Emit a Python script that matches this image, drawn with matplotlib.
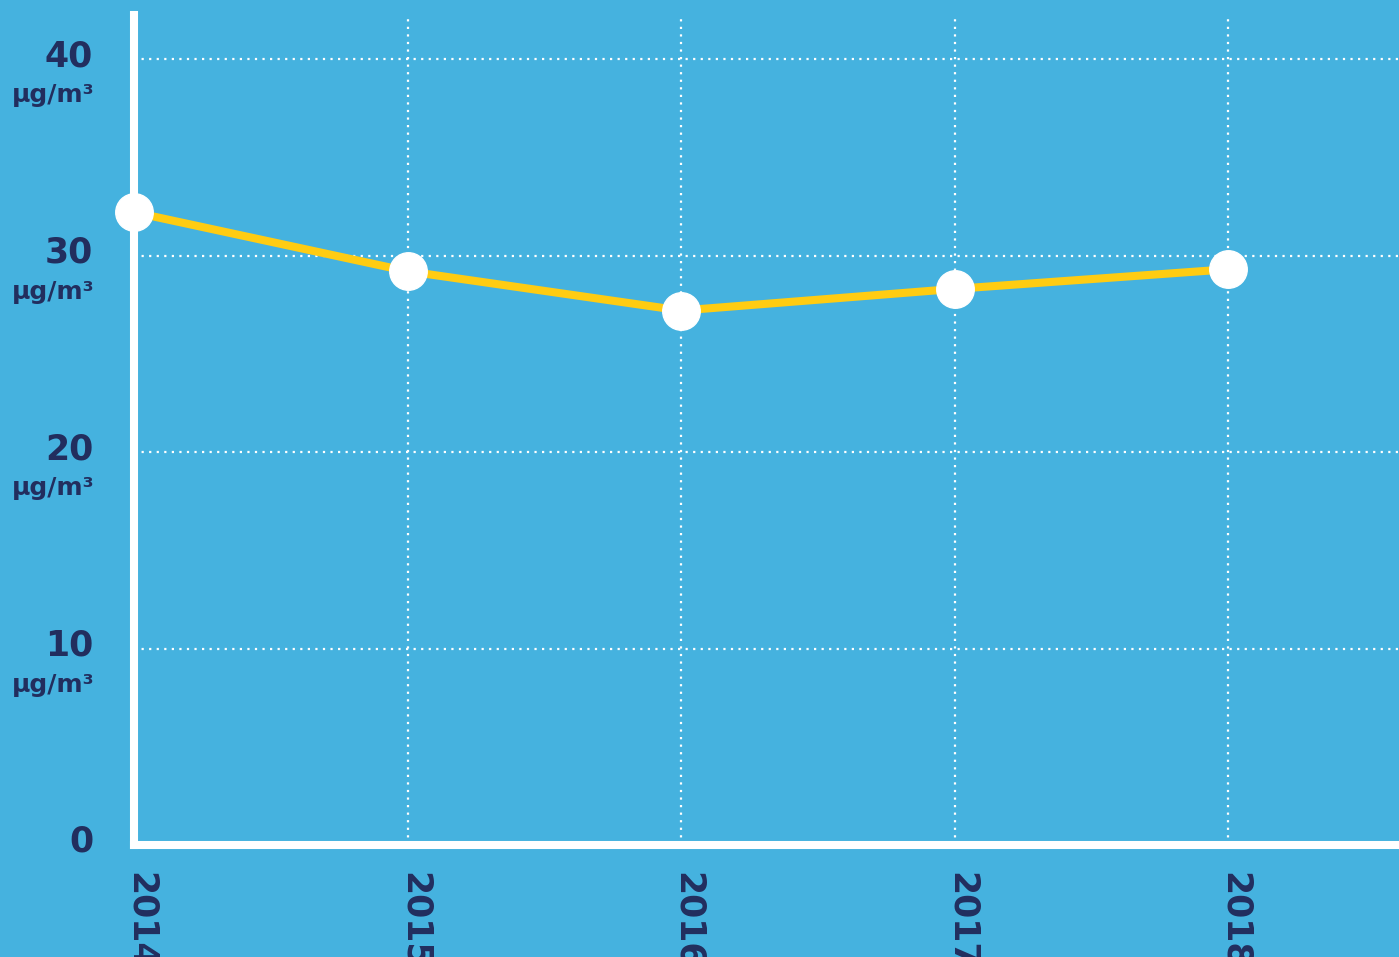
import matplotlib
matplotlib.use("Agg")
import matplotlib.pyplot as plt
import matplotlib.transforms as mtransforms

# data
years = [2014, 2015, 2016, 2017, 2018]
values = [32.2, 29.2, 27.2, 28.3, 29.3]
y_ticks = [0, 10, 20, 30, 40]
unit = "µg/m³"

BG = "#45B2DF"
NAVY = "#222E5E"
YELLOW = "#FFCC12"

fig = plt.figure(figsize=(13.99, 9.57), dpi=100, facecolor=BG)
ax = fig.add_axes([134 / 1399, 112 / 957, 1 - 134 / 1399, 830 / 957])
ax.set_facecolor(BG)

ax.plot(years, values, color=YELLOW, linewidth=5.8, zorder=6,
        solid_capstyle="butt", clip_on=False)
ax.plot(years, values, linestyle="none", marker="o", markersize=27,
        markerfacecolor="white", markeredgecolor="white", zorder=7,
        clip_on=False)

ax.set_xlim(2014, 2018.625)
ax.set_ylim(0, 42.24)

# dotted grid
for y in y_ticks[1:]:
    ax.axhline(y, color="white", linestyle=(0, (1, 2.4)), linewidth=1.6, zorder=1)
for x in years[1:]:
    ax.axvline(x, color="white", linestyle=(0, (1, 2.4)), linewidth=1.6, zorder=1)

for s in ["top", "right"]:
    ax.spines[s].set_visible(False)
for s in ["left", "bottom"]:
    ax.spines[s].set_color("white")
    ax.spines[s].set_linewidth(5.8)
    ax.spines[s].set_zorder(5)

ax.set_xticks([])
ax.set_yticks([])

# y tick labels
for y in y_ticks:
    ax.text(2014, y, str(y), transform=mtransforms.offset_copy(
                ax.transData, fig=fig, x=-41, y=3, units="dots"),
            ha="right", va="center", fontsize=25, fontweight="bold",
            color=NAVY, clip_on=False)
    if y:
        ax.text(2014, y, unit, transform=mtransforms.offset_copy(
                    ax.transData, fig=fig, x=-40, y=-36, units="dots"),
                ha="right", va="center", fontsize=18, fontweight="bold",
                color=NAVY, clip_on=False)

# x tick labels (rotated, running off the bottom of the image as in the source)
for x in years:
    ax.text(x, 0, str(x), transform=mtransforms.offset_copy(
                ax.transData, fig=fig, x=7, y=-27, units="dots"),
            ha="center", va="top", rotation=270, fontsize=25,
            fontweight="bold", color=NAVY, clip_on=False)

fig.savefig("out.png", dpi=100, facecolor=BG)
